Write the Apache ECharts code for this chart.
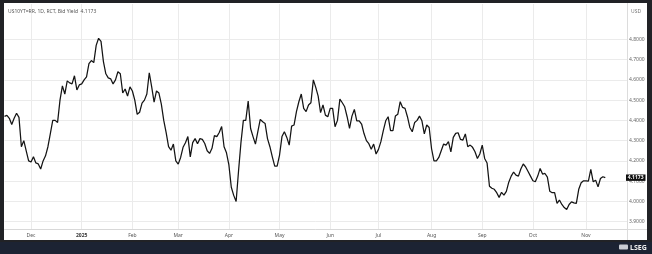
<!DOCTYPE html>
<html><head><meta charset="utf-8">
<script src="https://cdn.jsdelivr.net/npm/echarts@6/dist/echarts.min.js"></script>
<style>
html,body{margin:0;padding:0;background:#212226;width:652px;height:254px;overflow:hidden;}
#panel{position:absolute;left:4px;top:3px;width:643px;height:237px;background:#ffffff;}
#band{position:absolute;left:0;top:242px;width:652px;height:12px;background:#1c2333;}
#c{position:absolute;left:0;top:0;width:652px;height:254px;}
</style>
</head><body>
<div id="panel"></div><div id="band"></div><div id="c"></div>
<script>
// ---- data ----
const startDate = '2024-11-14';
const endDate = '2025-11-28';
const holidays = ['2024-11-28','2024-12-25','2025-01-01','2025-01-20','2025-02-17','2025-04-18',
  '2025-05-26','2025-06-19','2025-07-04','2025-09-01','2025-10-13','2025-11-11','2025-11-27'];
const monthNames = ['Jan','Feb','Mar','Apr','May','Jun','Jul','Aug','Sep','Oct','Nov','Dec'];
const yearLabel = '2025';
const titleText = 'US10YT=RR, 1D, RCT, Bid Yield';
const unitText = 'USD';
const brandText = 'LSEG';
const yields = [
 4.420,4.425,4.410,4.380,4.410,4.435,4.415,4.270,4.300,4.250,
 4.200,4.195,4.220,4.190,4.185,4.160,4.200,4.225,4.270,4.335,
 4.400,4.400,4.390,4.500,4.570,4.530,4.595,4.585,4.580,4.620,
 4.550,4.575,4.580,4.600,4.615,4.680,4.695,4.685,4.770,4.805,
 4.790,4.690,4.630,4.610,4.605,4.580,4.600,4.640,4.630,4.535,
 4.555,4.520,4.565,4.545,4.500,4.430,4.440,4.485,4.500,4.530,
 4.635,4.565,4.490,4.545,4.535,4.480,4.400,4.340,4.270,4.253,
 4.283,4.200,4.184,4.217,4.267,4.290,4.320,4.220,4.290,4.310,
 4.285,4.310,4.306,4.286,4.250,4.237,4.262,4.325,4.320,4.340,
 4.370,4.270,4.240,4.180,4.070,4.030,4.000,4.150,4.290,4.400,
 4.400,4.495,4.360,4.320,4.283,4.344,4.405,4.393,4.385,4.310,
 4.270,4.220,4.174,4.174,4.229,4.320,4.344,4.316,4.278,4.372,
 4.377,4.443,4.492,4.530,4.459,4.443,4.476,4.487,4.600,4.563,
 4.520,4.438,4.476,4.426,4.418,4.459,4.459,4.369,4.400,4.505,
 4.487,4.467,4.418,4.360,4.421,4.454,4.398,4.398,4.382,4.335,
 4.300,4.285,4.257,4.283,4.234,4.257,4.295,4.349,4.398,4.418,
 4.349,4.349,4.421,4.430,4.492,4.464,4.459,4.418,4.365,4.344,
 4.390,4.400,4.421,4.398,4.333,4.377,4.365,4.260,4.200,4.200,
 4.217,4.250,4.283,4.278,4.295,4.245,4.316,4.336,4.339,4.306,
 4.303,4.333,4.270,4.278,4.267,4.245,4.212,4.234,4.278,4.212,
 4.190,4.075,4.065,4.060,4.043,4.020,4.045,4.031,4.050,4.095,
 4.125,4.145,4.130,4.125,4.160,4.185,4.170,4.148,4.125,4.102,
 4.097,4.125,4.163,4.135,4.138,4.120,4.050,4.043,4.043,3.990,
 4.007,3.985,3.970,3.960,3.985,3.998,3.993,3.990,4.060,4.092,
 4.102,4.102,4.100,4.158,4.097,4.105,4.072,4.113,4.122,4.1173
];

// trading-day categories
function buildDates() {
  const out = [];
  const d = new Date(startDate + 'T00:00:00Z');
  const end = new Date(endDate + 'T00:00:00Z');
  while (d <= end) {
    const wd = d.getUTCDay();
    const s = d.toISOString().slice(0, 10);
    if (wd !== 0 && wd !== 6 && holidays.indexOf(s) < 0) out.push(s);
    d.setUTCDate(d.getUTCDate() + 1);
  }
  return out;
}
const dates = buildDates();
const isMonthStart = (idx) => idx > 0 && dates[idx].slice(5, 7) !== dates[idx - 1].slice(5, 7);
const lastValue = yields[yields.length - 1];

const FONT = '"Noto Sans", "Open Sans", sans-serif';
const chart = echarts.init(document.getElementById('c'), null, {renderer: 'canvas'});
const GL = 4.5, GR = 25, GB = 25;
chart.setOption({
  animation: false,
  backgroundColor: 'transparent',
  grid: [
    {left: GL, right: GR, top: 23.1, bottom: GB},
    {left: GL, right: GR, top: 4, bottom: GB}
  ],
  xAxis: [
    {type: 'category', gridIndex: 0, data: dates, boundaryGap: false, show: false},
    {type: 'category', gridIndex: 1, data: dates, boundaryGap: false,
     axisLine: {show: true, lineStyle: {color: '#d8d8d8', width: 1}},
     axisTick: {show: false},
     axisLabel: {
       interval: (i) => isMonthStart(i),
       margin: 4, fontSize: 5, color: '#555', fontFamily: FONT,
       formatter: (v) => {
         const m = parseInt(v.slice(5, 7), 10);
         return m === 1 ? '{b|' + yearLabel + '}' : monthNames[m - 1];
       },
       rich: {b: {fontSize: 5, fontWeight: 'bold', color: '#333', fontFamily: FONT}}
     },
     splitLine: {show: true, interval: (i) => isMonthStart(i), lineStyle: {color: '#ebebeb', width: 1}}
    }
  ],
  yAxis: [
    {type: 'value', gridIndex: 0, position: 'right', min: 3.864, max: 4.88,
     minInterval: 0.1, maxInterval: 0.1,
     axisLine: {show: false}, axisTick: {show: false},
     axisLabel: {margin: 2, fontSize: 5, color: '#666', fontFamily: FONT,
       showMinLabel: false, showMaxLabel: false,
       formatter: (v) => v.toFixed(4)},
     splitLine: {show: true, showMinLine: false, showMaxLine: false, lineStyle: {color: '#ebebeb', width: 1}}
    },
    {type: 'value', gridIndex: 1, min: 0, max: 1, show: false}
  ],
  series: [{
    type: 'line', xAxisIndex: 0, yAxisIndex: 0, data: yields,
    showSymbol: false, symbol: 'none',
    lineStyle: {color: '#141414', width: 1.25},
    z: 5
  }]
});

const yLast = chart.convertToPixel({yAxisIndex: 0}, lastValue);
chart.setOption({
  graphic: [
    {type: 'line', shape: {x1: 627.5, y1: 3, x2: 627.5, y2: 240}, style: {stroke: '#dcdcdc', lineWidth: 1}, silent: true},
    {type: 'line', shape: {x1: 627, y1: 229.5, x2: 647, y2: 229.5}, style: {stroke: '#dcdcdc', lineWidth: 1}, silent: true},
    {type: 'text', left: 8, top: 9, style: {text: titleText + '  ' + lastValue.toFixed(4), fill: '#555', font: '5px ' + FONT}},
    {type: 'text', left: 631, top: 9, style: {text: unitText, fill: '#777', font: '5px ' + FONT}},
    {type: 'rect', shape: {x: 626, y: yLast - 3.2, width: 19.5, height: 6.4}, style: {fill: '#111'}, z: 20},
    {type: 'text', x: 635.7, y: yLast, z: 21, style: {text: lastValue.toFixed(4), fill: '#fff', font: 'bold 5px ' + FONT, align: 'center', verticalAlign: 'middle'}},
    {type: 'rect', shape: {x: 619, y: 244.5, width: 9, height: 5, r: 1}, style: {fill: '#c9ccd3'}, z: 20},
    {type: 'text', x: 630, y: 247.5, z: 21, style: {text: brandText, fill: '#f2f2f2', font: 'bold 7px ' + FONT, verticalAlign: 'middle'}}
  ]
});
</script>
</body></html>
